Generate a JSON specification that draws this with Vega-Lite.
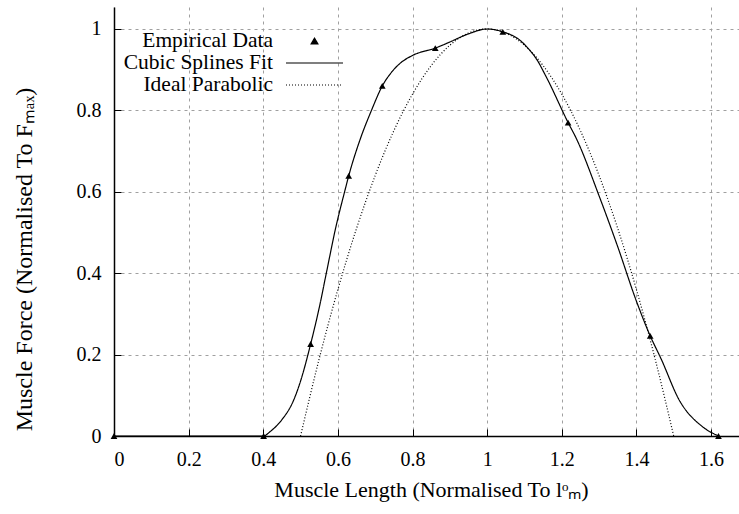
{
  "$schema": "https://vega.github.io/schema/vega-lite/v6.json",
  "width": 625,
  "height": 429,
  "autosize": {"type": "none"},
  "padding": {"left": 114, "top": 7, "right": 0, "bottom": 78},
  "background": "white",
  "config": {
    "view": {"stroke": null},
    "font": "Liberation Serif",
    "axis": {
      "domainColor": "black",
      "domainWidth": 1.5,
      "tickColor": "black",
      "tickWidth": 1,
      "tickSize": -7,
      "labelPadding": 20,
      "labelFont": "Liberation Serif",
      "labelFontSize": 20,
      "labelColor": "black",
      "titleFont": "Liberation Serif",
      "titleFontSize": 22,
      "titleFontWeight": "normal",
      "titleColor": "black",
      "grid": true,
      "gridColor": "#a0a0a0",
      "gridDash": [3, 4],
      "gridWidth": 1
    }
  },
  "datasets": {
    "curves": [
      {"x": 0, "y": 0, "series": "Cubic Splines Fit"},
      {"x": 0.4, "y": 0, "series": "Cubic Splines Fit"},
      {"x": 0.42, "y": 0.012, "series": "Cubic Splines Fit"},
      {"x": 0.45, "y": 0.04, "series": "Cubic Splines Fit"},
      {"x": 0.48, "y": 0.085, "series": "Cubic Splines Fit"},
      {"x": 0.5, "y": 0.135, "series": "Cubic Splines Fit"},
      {"x": 0.527, "y": 0.226, "series": "Cubic Splines Fit"},
      {"x": 0.55, "y": 0.315, "series": "Cubic Splines Fit"},
      {"x": 0.569, "y": 0.4, "series": "Cubic Splines Fit"},
      {"x": 0.595, "y": 0.515, "series": "Cubic Splines Fit"},
      {"x": 0.618, "y": 0.6, "series": "Cubic Splines Fit"},
      {"x": 0.629, "y": 0.639, "series": "Cubic Splines Fit"},
      {"x": 0.659, "y": 0.727, "series": "Cubic Splines Fit"},
      {"x": 0.69, "y": 0.8, "series": "Cubic Splines Fit"},
      {"x": 0.719, "y": 0.86, "series": "Cubic Splines Fit"},
      {"x": 0.745, "y": 0.895, "series": "Cubic Splines Fit"},
      {"x": 0.766, "y": 0.915, "series": "Cubic Splines Fit"},
      {"x": 0.8, "y": 0.935, "series": "Cubic Splines Fit"},
      {"x": 0.861, "y": 0.953, "series": "Cubic Splines Fit"},
      {"x": 0.9, "y": 0.968, "series": "Cubic Splines Fit"},
      {"x": 0.95, "y": 0.988, "series": "Cubic Splines Fit"},
      {"x": 1.0, "y": 1.0, "series": "Cubic Splines Fit"},
      {"x": 1.042, "y": 0.993, "series": "Cubic Splines Fit"},
      {"x": 1.087, "y": 0.973, "series": "Cubic Splines Fit"},
      {"x": 1.114, "y": 0.948, "series": "Cubic Splines Fit"},
      {"x": 1.131, "y": 0.928, "series": "Cubic Splines Fit"},
      {"x": 1.158, "y": 0.883, "series": "Cubic Splines Fit"},
      {"x": 1.217, "y": 0.77, "series": "Cubic Splines Fit"},
      {"x": 1.239, "y": 0.731, "series": "Cubic Splines Fit"},
      {"x": 1.3, "y": 0.59, "series": "Cubic Splines Fit"},
      {"x": 1.35, "y": 0.465, "series": "Cubic Splines Fit"},
      {"x": 1.399, "y": 0.334, "series": "Cubic Splines Fit"},
      {"x": 1.437, "y": 0.246, "series": "Cubic Splines Fit"},
      {"x": 1.466, "y": 0.19, "series": "Cubic Splines Fit"},
      {"x": 1.515, "y": 0.088, "series": "Cubic Splines Fit"},
      {"x": 1.577, "y": 0.023, "series": "Cubic Splines Fit"},
      {"x": 1.62, "y": 0, "series": "Cubic Splines Fit"},
      {"x": 0.5, "y": 0, "series": "Ideal Parabolic"},
      {"x": 0.55, "y": 0.19, "series": "Ideal Parabolic"},
      {"x": 0.6, "y": 0.36, "series": "Ideal Parabolic"},
      {"x": 0.65, "y": 0.51, "series": "Ideal Parabolic"},
      {"x": 0.7, "y": 0.64, "series": "Ideal Parabolic"},
      {"x": 0.75, "y": 0.75, "series": "Ideal Parabolic"},
      {"x": 0.8, "y": 0.84, "series": "Ideal Parabolic"},
      {"x": 0.85, "y": 0.91, "series": "Ideal Parabolic"},
      {"x": 0.9, "y": 0.96, "series": "Ideal Parabolic"},
      {"x": 0.95, "y": 0.99, "series": "Ideal Parabolic"},
      {"x": 1.0, "y": 1.0, "series": "Ideal Parabolic"},
      {"x": 1.05, "y": 0.99, "series": "Ideal Parabolic"},
      {"x": 1.1, "y": 0.96, "series": "Ideal Parabolic"},
      {"x": 1.15, "y": 0.91, "series": "Ideal Parabolic"},
      {"x": 1.2, "y": 0.84, "series": "Ideal Parabolic"},
      {"x": 1.25, "y": 0.75, "series": "Ideal Parabolic"},
      {"x": 1.3, "y": 0.64, "series": "Ideal Parabolic"},
      {"x": 1.35, "y": 0.51, "series": "Ideal Parabolic"},
      {"x": 1.4, "y": 0.36, "series": "Ideal Parabolic"},
      {"x": 1.45, "y": 0.19, "series": "Ideal Parabolic"},
      {"x": 1.5, "y": 0, "series": "Ideal Parabolic"}
    ],
    "points": [
      {"x": 0, "y": 0},
      {"x": 0.401, "y": 0},
      {"x": 0.527, "y": 0.226},
      {"x": 0.629, "y": 0.639},
      {"x": 0.719, "y": 0.86},
      {"x": 0.861, "y": 0.953},
      {"x": 1.042, "y": 0.993},
      {"x": 1.217, "y": 0.77},
      {"x": 1.437, "y": 0.246},
      {"x": 1.62, "y": 0}
    ]
  },
  "layer": [
    {
      "data": {"name": "curves"},
      "mark": {"type": "line", "interpolate": "monotone", "color": "black", "strokeWidth": 1.2, "clip": true},
      "encoding": {
        "x": {
          "field": "x", "type": "quantitative",
          "scale": {"domain": [0, 1.675], "nice": false, "zero": false},
          "axis": {"values": [0, 0.2, 0.4, 0.6, 0.8, 1, 1.2, 1.4, 1.6], "format": "~g", "titleX": 317, "titlePadding": 10,
                   "title": "Muscle Length (Normalised To lᵒₘ)"}
        },
        "y": {
          "field": "y", "type": "quantitative",
          "scale": {"domain": [0, 1.054], "nice": false},
          "axis": {"values": [0, 0.2, 0.4, 0.6, 0.8, 1], "format": "~g", "titlePadding": 40, "titleY": 252, "titleFontSize": 24,
                   "title": "Muscle Force (Normalised To Fₘₐₓ)"}
        },
        "strokeDash": {
          "field": "series", "type": "nominal",
          "scale": {"domain": ["Empirical Data", "Cubic Splines Fit", "Ideal Parabolic"], "range": [[1, 0], [1, 0], [1, 2]]},
          "legend": {
            "title": null, "orient": "none", "legendX": 171, "legendY": 23.5, "padding": 0,
            "labelFont": "Liberation Serif", "labelFontSize": 21.5, "labelColor": "black",
            "labelAlign": "right", "labelOffset": -71, "labelLimit": 400,
            "symbolType": "stroke", "symbolSize": 3249, "symbolStrokeColor": "black", "symbolStrokeWidth": 1.2,
            "rowPadding": 0,
            "encode": {
              "symbols": {
                "update": {
                  "y": {"value": 10.5},
                  "shape": {"signal": "datum.value === 'Empirical Data' ? 'triangle-up' : 'stroke'"},
                  "size": {"signal": "datum.value === 'Empirical Data' ? 45 : 3249"},
                  "fill": {"signal": "datum.value === 'Empirical Data' ? 'black' : 'transparent'"},
                  "stroke": {"value": "black"}
                }
              },
              "labels": {
                "update": {
                  "y": {"value": 10.5}
                }
              }
            }
          }
        }
      }
    },
    {
      "data": {"name": "points"},
      "mark": {"type": "point", "shape": "triangle-up", "filled": true, "color": "black", "size": 45, "opacity": 1},
      "encoding": {
        "x": {"field": "x", "type": "quantitative"},
        "y": {"field": "y", "type": "quantitative"}
      }
    }
  ]
}
